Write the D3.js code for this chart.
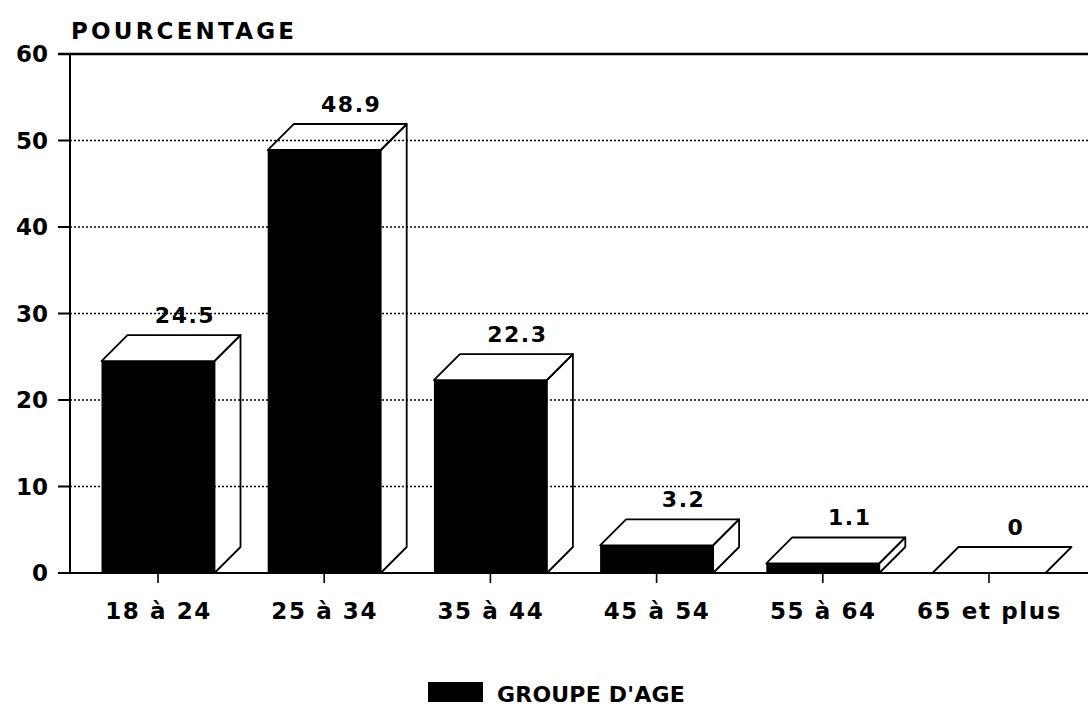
<!DOCTYPE html>
<html><head><meta charset="utf-8">
<script src="https://cdn.jsdelivr.net/npm/d3@7"></script>
<style>
html,body{margin:0;padding:0;background:#fff;}
text{font-family:"DejaVu Sans",sans-serif;font-weight:bold;fill:#000;}
</style></head>
<body><svg id="chart" width="1088" height="711"></svg>
<script>
const categories = ["18 à 24","25 à 34","35 à 44","45 à 54","55 à 64","65 et plus"];
const values = [24.5, 48.9, 22.3, 3.2, 1.1, 0];
const valueLabels = ["24.5","48.9","22.3","3.2","1.1","0"];
const yTicks = [0,10,20,30,40,50,60];
const yTitle = "POURCENTAGE";
const legendLabel = "GROUPE D'AGE";

(function(){
const svg = d3.select("#chart");
const axisX = 70, plotTop = 54, base = 573, plotRight = 1088;
const y = d3.scaleLinear().domain([0,60]).range([base, plotTop]);
const x = d3.scalePoint().domain(categories).range([158, 989]);
const barW = 113, dx = 26, dy = 26;

// grid lines
svg.append("g").selectAll("line").data(yTicks.filter(t => t > 0 && t < 60)).join("line")
  .attr("x1", axisX).attr("x2", plotRight)
  .attr("y1", d => y(d)).attr("y2", d => y(d))
  .attr("stroke", "#000").attr("stroke-width", 1.7).attr("stroke-dasharray", "2,2");

// top border line
svg.append("line").attr("x1", axisX - 12).attr("x2", plotRight).attr("y1", y(60)).attr("y2", y(60))
  .attr("stroke", "#000").attr("stroke-width", 2.4);

// y axis
svg.append("line").attr("x1", axisX).attr("x2", axisX).attr("y1", y(60)).attr("y2", y(0))
  .attr("stroke", "#000").attr("stroke-width", 2);
svg.append("g").selectAll("line").data(yTicks).join("line")
  .attr("x1", axisX - 12).attr("x2", axisX)
  .attr("y1", d => y(d)).attr("y2", d => y(d))
  .attr("stroke", "#000").attr("stroke-width", 2);
svg.append("g").selectAll("text").data(yTicks).join("text")
  .attr("x", 48).attr("y", d => y(d)).attr("dy", "0.36em")
  .attr("text-anchor", "end").attr("font-size", 23).text(d => d);

// x axis
svg.append("line").attr("x1", axisX - 12).attr("x2", plotRight).attr("y1", y(0)).attr("y2", y(0))
  .attr("stroke", "#000").attr("stroke-width", 2);
svg.append("g").selectAll("line").data(categories).join("line")
  .attr("x1", d => x(d)).attr("x2", d => x(d))
  .attr("y1", y(0)).attr("y2", y(0) + 10)
  .attr("stroke", "#000").attr("stroke-width", 1.6);
svg.append("g").selectAll("text").data(categories).join("text")
  .attr("x", d => x(d) + 0.5).attr("y", 619)
  .attr("text-anchor", "middle").attr("font-size", 23).attr("letter-spacing", 1.6)
  .text(d => d);

// bars
const bars = svg.append("g").selectAll("g").data(categories.map((c,i) => ({c, v: values[i], lab: valueLabels[i]}))).join("g");
bars.append("rect")
  .attr("x", d => x(d.c) - barW/2).attr("width", barW)
  .attr("y", d => y(d.v)).attr("height", d => y(0) - y(d.v))
  .attr("fill", "#000");
bars.append("path")
  .attr("d", d => {
    const x0 = x(d.c) - barW/2, x1 = x(d.c) + barW/2, yv = y(d.v);
    return `M${x0},${yv}L${x0+dx},${yv-dy}L${x1+dx},${yv-dy}L${x1},${yv}Z`;
  })
  .attr("fill", "none").attr("stroke", "#000").attr("stroke-width", 1.8).attr("stroke-linejoin", "round");
bars.filter(d => d.v > 0).append("path")
  .attr("d", d => {
    const x1 = x(d.c) + barW/2, yv = y(d.v), y0 = y(0);
    return `M${x1},${yv}L${x1+dx},${yv-dy}L${x1+dx},${y0-dy}L${x1},${y0}Z`;
  })
  .attr("fill", "none").attr("stroke", "#000").attr("stroke-width", 1.8).attr("stroke-linejoin", "round");
bars.append("text")
  .attr("x", d => x(d.c) + dx + 1).attr("y", d => y(d.v) - dy - 12)
  .attr("text-anchor", "middle").attr("font-size", 22).attr("letter-spacing", 1.5)
  .text(d => d.lab);

// title
svg.append("text").attr("x", 71).attr("y", 39).attr("font-size", 23).attr("letter-spacing", 3.2).text(yTitle);

// legend
svg.append("rect").attr("x", 428).attr("y", 682).attr("width", 55).attr("height", 20).attr("fill", "#000");
svg.append("text").attr("x", 497).attr("y", 702).attr("font-size", 22).attr("letter-spacing", 0.2).text(legendLabel);
})();
</script></body></html>
